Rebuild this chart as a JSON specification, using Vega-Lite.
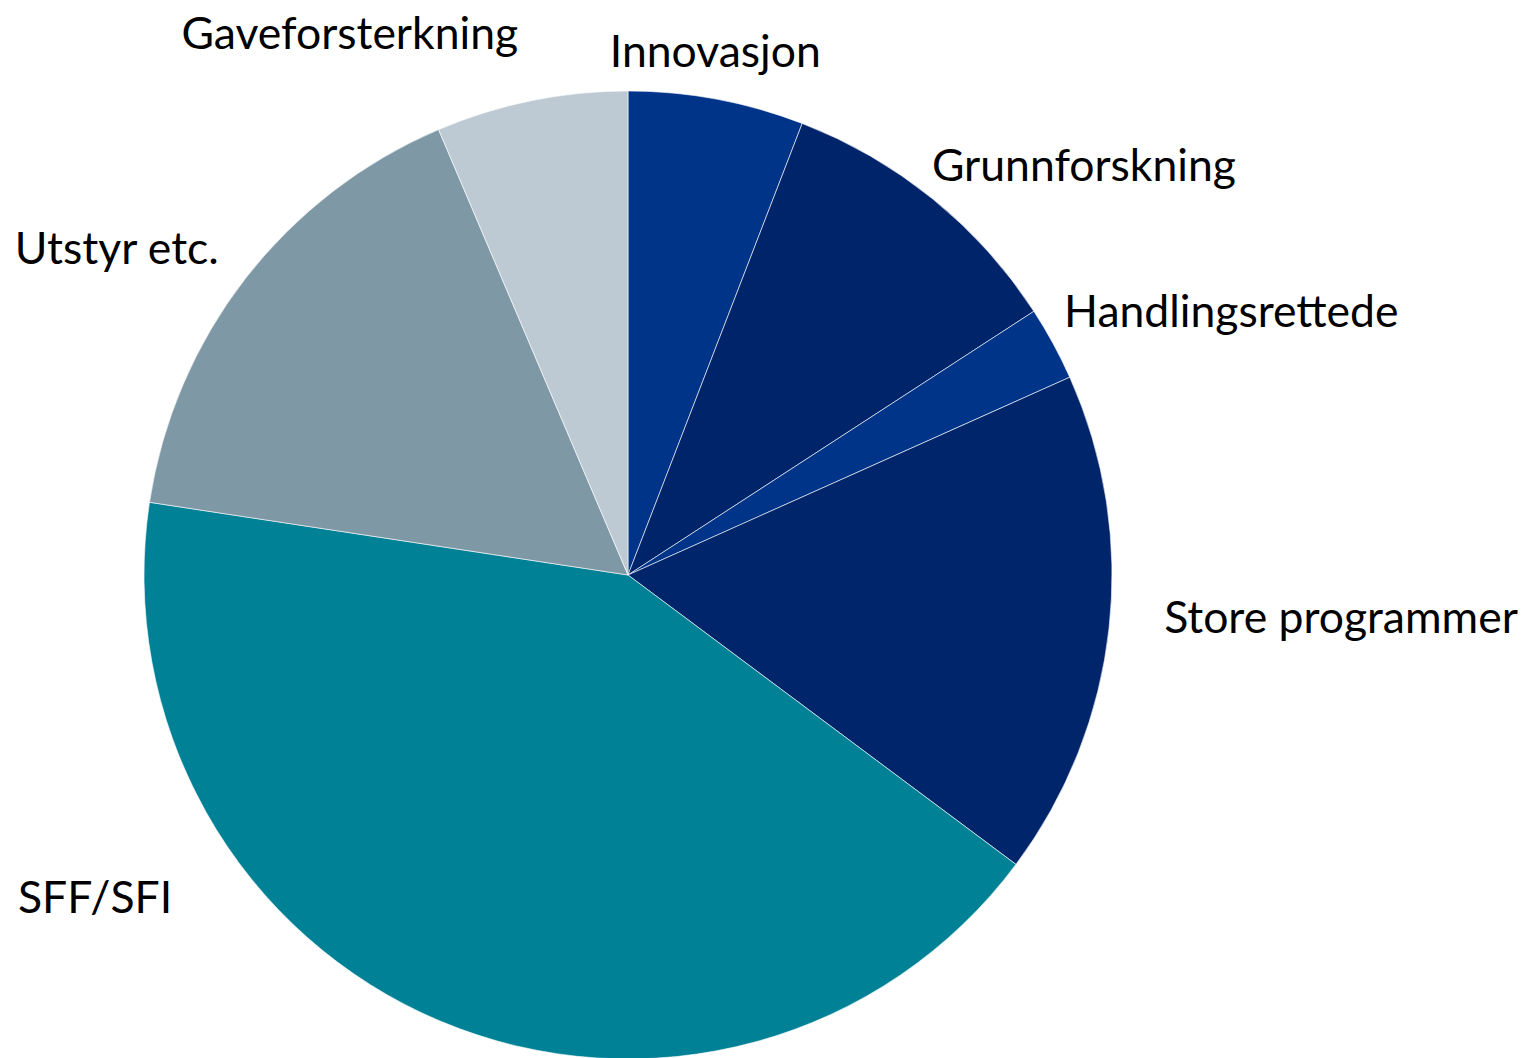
{
  "$schema": "https://vega.github.io/schema/vega-lite/v6.json",
  "autosize": "none",
  "width": 1256,
  "height": 968,
  "padding": {"left": 0, "top": 91, "right": 279, "bottom": 0},
  "background": "white",
  "config": {"view": {"stroke": null}, "text": {"font": "Lato", "fontSize": 44.5, "color": "black", "baseline": "middle"}},
  "data": {
    "values": [
      {"order": 1, "label": "Innovasjon", "value": 5.86},
      {"order": 2, "label": "Grunnforskning", "value": 9.97},
      {"order": 3, "label": "Handlingsrettede", "value": 2.47},
      {"order": 4, "label": "Store programmer", "value": 16.9},
      {"order": 5, "label": "SFF/SFI", "value": 42.2},
      {"order": 6, "label": "Utstyr etc.", "value": 16.2},
      {"order": 7, "label": "Gaveforsterkning", "value": 6.4}
    ]
  },
  "transform": [
    {"stack": "value", "groupby": [], "sort": [{"field": "order"}], "as": ["v0", "v1"]},
    {"calculate": "(datum.v0 + datum.v1) / 2", "as": "mid"}
  ],
  "layer": [
    {
      "mark": {"type": "arc", "stroke": "white", "strokeWidth": 0.6},
      "encoding": {
        "theta": {"field": "v0", "type": "quantitative", "scale": {"domain": [0, 100]}},
        "theta2": {"field": "v1"},
        "color": {
          "field": "label",
          "type": "nominal",
          "legend": null,
          "scale": {
            "domain": ["Innovasjon", "Grunnforskning", "Handlingsrettede", "Store programmer", "SFF/SFI", "Utstyr etc.", "Gaveforsterkning"],
            "range": ["#003489", "#00246a", "#003489", "#00256a", "#008195", "#7f98a5", "#bdcad4"]
          }
        }
      }
    },
    {
      "transform": [{"filter": "indexof(['Grunnforskning','Handlingsrettede'], datum.label) >= 0"}],
      "mark": {"type": "text", "align": "left", "radius": 508, "thetaOffset": -0.04},
      "encoding": {
        "theta": {"field": "mid", "type": "quantitative", "stack": null},
        "text": {"field": "label"}
      }
    },
    {
      "transform": [{"filter": "datum.label == 'Store programmer'"}],
      "mark": {"type": "text", "align": "left", "radius": 538, "thetaOffset": -0.027},
      "encoding": {
        "theta": {"field": "mid", "type": "quantitative", "stack": null},
        "text": {"field": "label"}
      }
    },
    {
      "transform": [{"filter": "datum.label == 'Utstyr etc.'"}],
      "mark": {"type": "text", "align": "right", "radius": 522, "thetaOffset": 0.01},
      "encoding": {
        "theta": {"field": "mid", "type": "quantitative", "stack": null},
        "text": {"field": "label"}
      }
    },
    {
      "transform": [{"filter": "datum.label == 'Gaveforsterkning'"}],
      "mark": {"type": "text", "align": "right", "radius": 550},
      "encoding": {
        "theta": {"field": "mid", "type": "quantitative", "stack": null},
        "text": {"field": "label"}
      }
    },
    {
      "transform": [{"filter": "datum.label == 'Innovasjon'"}],
      "mark": {"type": "text", "align": "center", "radius": 528, "thetaOffset": -0.018},
      "encoding": {
        "theta": {"field": "mid", "type": "quantitative", "stack": null},
        "text": {"field": "label"}
      }
    },
    {
      "transform": [{"filter": "datum.label == 'SFF/SFI'"}],
      "mark": {"type": "text", "align": "right", "radius": 560, "thetaOffset": 0.555},
      "encoding": {
        "theta": {"field": "mid", "type": "quantitative", "stack": null},
        "text": {"field": "label"}
      }
    }
  ]
}
